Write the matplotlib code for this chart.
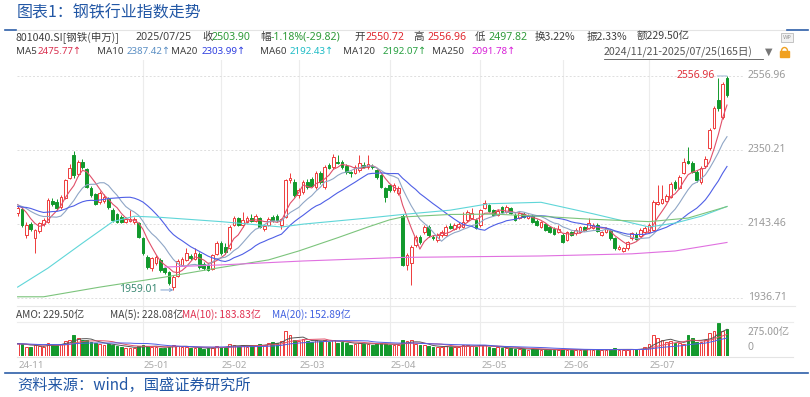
import numpy as np
import pandas as pd
import matplotlib
matplotlib.use('Agg')
import matplotlib.pyplot as plt
import matplotlib.transforms as mtransforms
from matplotlib.lines import Line2D
from matplotlib.patches import Rectangle, Arc

plt.rcParams['font.family'] = ['Noto Sans CJK SC', 'DejaVu Sans']
LATIN = ['Noto Sans', 'DejaVu Sans']

# --- daily OHLC of 801040.SI, 2024/11/21 - 2025/07/25 (165 trading days) ---
opens = [
    2174, 2185, 2112, 2143, 2104, 2125, 2143, 2149, 2207, 2206,
    2190, 2216, 2272, 2336, 2284, 2317, 2296, 2244, 2226, 2205,
    2208, 2212, 2182, 2170, 2163, 2150, 2152, 2148, 2146, 2104,
    2051, 2020, 2035, 2043, 2020, 2009, 1968, 1998, 2030, 2043,
    2054, 2045, 2060, 2032, 2030, 2018, 2060, 2090, 2080, 2075,
    2141, 2160, 2141, 2149, 2160, 2152, 2160, 2130, 2141, 2163,
    2166, 2140, 2163, 2266, 2262, 2224, 2233, 2261, 2269, 2247,
    2286, 2247, 2308, 2303, 2317, 2317, 2305, 2288, 2286, 2294,
    2308, 2303, 2306, 2294, 2280, 2244, 2252, 2238, 2230, 2165,
    2029, 2034, 2085, 2107, 2121, 2135, 2107, 2099, 2113, 2113,
    2138, 2130, 2135, 2135, 2155, 2160, 2155, 2141, 2188, 2196,
    2182, 2169, 2191, 2177, 2188, 2169, 2160, 2172, 2160, 2166,
    2152, 2135, 2143, 2135, 2130, 2121, 2113, 2099, 2121, 2118,
    2121, 2135, 2132, 2132, 2141, 2113, 2121, 2124, 2104, 2074,
    2068, 2076, 2104, 2116, 2110, 2121, 2121, 2127, 2200, 2203,
    2208, 2219, 2261, 2244, 2286, 2318, 2314, 2289, 2262, 2305,
    2356, 2412, 2490, 2443, 2550.72,
]
highs = [
    2196, 2190, 2150, 2150, 2130, 2150, 2160, 2215, 2216, 2214,
    2225, 2270, 2312, 2346, 2322, 2325, 2300, 2250, 2230, 2235,
    2228, 2220, 2188, 2175, 2168, 2162, 2182, 2162, 2150, 2108,
    2056, 2052, 2058, 2048, 2024, 2012, 2000, 2045, 2050, 2075,
    2060, 2075, 2064, 2036, 2034, 2060, 2095, 2096, 2090, 2140,
    2166, 2164, 2177, 2166, 2172, 2170, 2164, 2142, 2162, 2168,
    2170, 2160, 2270, 2286, 2268, 2245, 2266, 2268, 2274, 2292,
    2292, 2308, 2314, 2340, 2336, 2322, 2310, 2292, 2308, 2336,
    2316, 2336, 2312, 2298, 2284, 2248, 2256, 2258, 2250, 2170,
    2062, 2085, 2112, 2112, 2140, 2140, 2112, 2118, 2126, 2140,
    2146, 2146, 2148, 2177, 2182, 2188, 2160, 2186, 2210, 2200,
    2186, 2186, 2195, 2196, 2192, 2173, 2178, 2176, 2170, 2170,
    2156, 2153, 2147, 2139, 2134, 2140, 2117, 2125, 2125, 2131,
    2139, 2139, 2160, 2145, 2145, 2125, 2136, 2128, 2108, 2084,
    2080, 2097, 2122, 2120, 2131, 2137, 2145, 2210, 2252, 2252,
    2228, 2262, 2266, 2280, 2328, 2358, 2318, 2294, 2305, 2332,
    2412, 2472, 2551, 2540, 2556.96,
]
lows = [
    2165, 2135, 2105, 2125, 2062, 2118, 2138, 2145, 2195, 2183,
    2185, 2212, 2268, 2272, 2278, 2298, 2244, 2220, 2196, 2200,
    2203, 2186, 2150, 2146, 2146, 2145, 2148, 2144, 2104, 2058,
    2018, 2012, 2030, 2010, 2005, 1974, 1959.01, 1995, 2025, 2040,
    2044, 2042, 2018, 2016, 2012, 2014, 2056, 2058, 2060, 2070,
    2138, 2138, 2136, 2145, 2148, 2148, 2131, 2125, 2138, 2150,
    2150, 2128, 2160, 2258, 2218, 2215, 2228, 2242, 2246, 2242,
    2256, 2242, 2296, 2298, 2310, 2298, 2284, 2276, 2282, 2290,
    2300, 2298, 2298, 2270, 2243, 2205, 2232, 2234, 2225, 2026,
    2015, 1973, 2080, 2088, 2116, 2108, 2098, 2094, 2108, 2110,
    2128, 2126, 2130, 2132, 2150, 2156, 2128, 2136, 2184, 2176,
    2165, 2165, 2173, 2173, 2170, 2151, 2156, 2159, 2156, 2145,
    2137, 2131, 2123, 2117, 2112, 2117, 2089, 2095, 2109, 2114,
    2117, 2123, 2128, 2128, 2120, 2109, 2117, 2100, 2072, 2070,
    2064, 2072, 2100, 2098, 2106, 2117, 2117, 2123, 2196, 2199,
    2204, 2215, 2238, 2240, 2282, 2310, 2285, 2260, 2256, 2300,
    2350, 2408, 2460, 2438, 2497.82,
]
closes = [
    2188, 2141, 2140, 2130, 2127, 2146, 2155, 2210, 2199, 2188,
    2219, 2266, 2300, 2280, 2317, 2303, 2247, 2224, 2200, 2230,
    2219, 2190, 2155, 2150, 2150, 2157, 2158, 2157, 2107, 2062,
    2023, 2048, 2051, 2015, 2009, 1978, 1995, 2040, 2045, 2062,
    2048, 2062, 2023, 2020, 2015, 2057, 2090, 2062, 2066, 2135,
    2160, 2141, 2155, 2160, 2152, 2166, 2135, 2138, 2157, 2155,
    2155, 2157, 2266, 2272, 2224, 2238, 2261, 2247, 2250, 2286,
    2261, 2303, 2300, 2331, 2314, 2303, 2289, 2286, 2303, 2314,
    2303, 2310, 2303, 2275, 2247, 2219, 2238, 2252, 2244, 2030,
    2057, 2079, 2107, 2093, 2135, 2113, 2104, 2113, 2121, 2135,
    2132, 2140, 2143, 2149, 2177, 2174, 2132, 2182, 2202, 2180,
    2169, 2180, 2177, 2191, 2174, 2155, 2174, 2163, 2166, 2149,
    2141, 2149, 2127, 2121, 2116, 2130, 2093, 2121, 2113, 2127,
    2135, 2127, 2146, 2141, 2124, 2121, 2132, 2104, 2076, 2080,
    2076, 2093, 2118, 2102, 2127, 2132, 2141, 2205, 2205, 2213,
    2222, 2255, 2244, 2275, 2317, 2314, 2290, 2265, 2300, 2326,
    2407, 2467, 2467, 2533.72, 2503.90,
]
# closes of the 19 sessions before the window (needed for MA5/10/20 at the left edge)
pre_closes = [2175, 2160, 2185, 2210, 2230, 2215, 2190, 2170, 2180, 2165,
              2185, 2195, 2210, 2190, 2200, 2185, 2205, 2215, 2195]

# turnover (亿元)
amount = [
    110, 105, 80, 75, 90, 85, 80, 115, 95, 90,
    105, 130, 140, 176, 150, 140, 135, 120, 110, 100,
    95, 100, 95, 85, 75, 70, 72, 68, 85, 95,
    85, 80, 75, 70, 72, 80, 95, 85, 75, 80,
    65, 70, 75, 60, 65, 70, 85, 80, 75, 100,
    95, 85, 90, 80, 95, 90, 100, 95, 110, 120,
    115, 130, 211, 180, 140, 130, 145, 125, 120, 135,
    125, 140, 120, 135, 115, 120, 110, 95, 105, 115,
    100, 105, 95, 100, 110, 105, 95, 90, 95, 140,
    130, 135, 105, 90, 95, 85, 75, 80, 75, 85,
    80, 78, 80, 95, 90, 85, 80, 95, 90, 80,
    70, 75, 65, 70, 65, 60, 62, 58, 55, 60,
    58, 55, 52, 50, 52, 55, 60, 55, 50, 52,
    55, 50, 60, 55, 52, 50, 55, 58, 65, 52,
    50, 55, 60, 58, 62, 75, 100, 175, 150, 140,
    120, 130, 115, 110, 105, 175, 150, 120, 118, 135,
    200, 215, 282, 214, 229.5,
]
pre_amount = [105, 98, 110, 120, 115, 100, 95, 105, 112, 98,
              90, 100, 108, 95, 102, 110, 96, 104, 100]

# long moving averages (day index, value)
ma60_idx = [0, 7, 15, 22, 27, 33, 47, 61, 66, 81, 89, 100, 109, 121, 133, 140, 146, 152, 158, 164]
ma60_val = [1967, 2020, 2090, 2150, 2165, 2162, 2150, 2135, 2143, 2160, 2170, 2182, 2200, 2204,
            2172, 2152, 2135, 2146, 2165, 2192.43]
ma120_idx = [0, 6, 19, 34, 46, 58, 65, 74, 81, 86, 89, 100, 110, 121, 132, 146, 155, 164]
ma120_val = [1940, 1940, 1967, 1995, 2020, 2043, 2068, 2105, 2135, 2155, 2163, 2170, 2171, 2165,
             2157, 2150, 2160, 2192.07]
ma250_idx = [34, 47, 66, 89, 121, 142, 152, 164]
ma250_val = [2023, 2029, 2040, 2050, 2054, 2060, 2068, 2091.78]

month_labels = ['24-11', '25-01', '25-02', '25-03', '25-04', '25-05', '25-06', '25-07']
month_idx = [0, 29, 47, 65, 86, 107, 126, 146]
price_ticks = [1936.71, 2143.46, 2350.21, 2556.96]

RED = '#ee3b3b'
GREEN = '#12992c'
TXT = '#404040'
BLUE_T = '#2257a5'

W, H = 810, 397


def fx(px):
    return px / W


def fy(py):
    return 1 - py / H


opens, highs, lows, closes = map(np.array, (opens, highs, lows, closes))
amount = np.array(amount)
x = np.arange(len(closes))
up = closes >= opens
edge = np.where(up, RED, GREEN)
face = np.where(up, 'white', GREEN)
xlim = (-0.14, 167.7)

fig = plt.figure(figsize=(W / 100, H / 100), dpi=100)

# background axes holding the month grid lines (spans price + volume panels)
bg = fig.add_axes([fx(17), fy(357), fx(743) - fx(17), fy(60) - fy(357)])
bg.set_xlim(xlim)
bg.axis('off')
for i in month_idx[1:]:
    bg.axvline(i, color='#ececec', lw=0.8)

# --- price panel ---
ax = fig.add_axes([fx(17), fy(300), fx(743) - fx(17), fy(62) - fy(300)])
ax.set_xlim(xlim)
ax.set_ylim(1931, 2596)
ax.axis('off')
for v in price_ticks:
    ax.axhline(v, color='#dedede', lw=0.7, ls=(0, (2, 2)))
    ax.text(1 + 5 / 726, v, f'{v:.2f}', transform=ax.get_yaxis_transform(),
            ha='left', va='center', fontsize=7.5, color='#9a9a9a', family=LATIN)

# candles: wick first, then body (hollow red / filled green)
ax.vlines(x, lows, highs, colors=edge, lw=0.7, zorder=2)
body_lo = np.minimum(opens, closes)
body_h = np.maximum(np.abs(closes - opens), 0.8)
ax.bar(x, body_h, bottom=body_lo, width=0.62, color=face, edgecolor=edge,
       linewidth=0.7, zorder=3)

# short moving averages from the closes
all_close = pd.Series(pre_closes + list(closes))
n_pre = len(pre_closes)
for win, c in [(5, '#e0506a'), (10, '#8fa6c6'), (20, '#4f5fe6')]:
    ma = all_close.rolling(win).mean().iloc[n_pre:].to_numpy()
    ax.plot(x, ma, color=c, lw=0.8, zorder=4)
ax.plot(ma60_idx, ma60_val, color='#5fd6d8', lw=0.8, zorder=4)
ax.plot(ma120_idx, ma120_val, color='#7cc47c', lw=0.8, zorder=4)
ax.plot(ma250_idx, ma250_val, color='#e070e0', lw=0.8, zorder=4)

# max / min markers
ih = int(np.argmax(highs))
il = int(np.argmin(lows))
ax.annotate(f'{highs[ih]:.2f}', xy=(ih, highs[ih]), xytext=(-9, 0), textcoords='offset points',
            ha='right', va='center', fontsize=7.5, color='#e0323c', family=LATIN,
            arrowprops=dict(arrowstyle='-', color='#9fb6d6', lw=0.7, shrinkA=0, shrinkB=0))
ax.annotate(f'{lows[il]:.2f}', xy=(il, lows[il]), xytext=(-11, 0), textcoords='offset points',
            ha='right', va='center', fontsize=7.5, color='#3b8a74', family=LATIN,
            arrowprops=dict(arrowstyle='->', color='#7fa0d0', lw=0.7, shrinkA=0, shrinkB=0,
                            mutation_scale=5))

# --- volume panel ---
axv = fig.add_axes([fx(17), fy(356), fx(743) - fx(17), fy(322) - fy(356)])
axv.set_xlim(xlim)
axv.set_ylim(0, 290)
axv.axis('off')
axv.bar(x, amount, width=0.62, color=face, edgecolor=edge, linewidth=0.7, zorder=2)
all_amt = pd.Series(pre_amount + list(amount))
for win, c in [(5, '#555555'), (10, '#e0506a'), (20, '#4f5fe6')]:
    ma = all_amt.rolling(win).mean().iloc[len(pre_amount):].to_numpy()
    axv.plot(x, ma, color=c, lw=0.7, zorder=3)
fig.text(fx(748), fy(332), '275.00亿', fontsize=7.5, color='#9a9a9a', va='center')
fig.text(fx(748), fy(347), '0', fontsize=7.5, color='#9a9a9a', va='center', family=LATIN)

# AMO legend line
amo = [(16, 'AMO: 229.50亿', TXT), (110, 'MA(5): 228.08亿', TXT),
       (182, 'MA(10): 183.83亿', '#e03050'), (272, 'MA(20): 152.89亿', '#4060e0')]
for px, s, c in amo:
    fig.text(fx(px), fy(315), s, fontsize=7.3, color=c, va='center')

# month labels
trans = mtransforms.blended_transform_factory(bg.transData, fig.transFigure)
for i, lab in zip(month_idx, month_labels):
    bg.text(i + 0.2, fy(365), lab, transform=trans, ha='left', va='center',
            fontsize=7, color='#aaaaaa', family=LATIN)

# separator lines
fig.add_artist(Line2D([fx(17), fx(787)], [fy(30)] * 2, color='#e4e4e4', lw=0.8))
fig.add_artist(Line2D([fx(5), fx(16)], [fy(30)] * 2, color='#2e5fa8', lw=1.2))
fig.add_artist(Line2D([fx(787), fx(808)], [fy(30)] * 2, color='#2e5fa8', lw=1.2))
fig.add_artist(Line2D([fx(17), fx(795)], [fy(306)] * 2, color='#e8e8e8', lw=0.8))
fig.add_artist(Line2D([fx(17), fx(793)], [fy(322)] * 2, color='#ececec', lw=0.8))
fig.add_artist(Line2D([fx(17), fx(793)], [fy(357)] * 2, color='#e4e4e4', lw=0.8))
fig.add_artist(Line2D([fx(5), fx(808)], [fy(373)] * 2, color='#2e5fa8', lw=1.2))

# title and source
fig.text(fx(17), fy(13), '图表1：钢铁行业指数走势', fontsize=11.5, color=BLUE_T,
         style='italic', va='center')
fig.text(fx(17), fy(385), '资料来源：wind，国盛证券研究所', fontsize=11, color=BLUE_T,
         style='italic', va='center')

# header row 1 (each piece placed where it sits in the reference)
row1 = [(16, '801040.SI[钢铁(申万)]', TXT), (135, '2025/07/25', TXT),
        (202, '收', TXT), (212, '2503.90', '#2e9a38'),
        (260, '幅', TXT), (271, '-1.18%(-29.82)', '#2e9a38'),
        (354, '开', TXT), (365, '2550.72', '#e0282e'),
        (413, '高', TXT), (427, '2556.96', '#e0282e'),
        (475, '低', TXT), (488, '2497.82', '#2e9a38'),
        (535, '换3.22%', TXT), (587, '振2.33%', TXT), (637, '额229.50亿', TXT)]
for px, s, c in row1:
    fam = LATIN if s.isascii() else ['Noto Sans CJK SC', 'DejaVu Sans']
    fig.text(fx(px), fy(37), s, fontsize=7.6, color=c, va='center', family=fam)

# header row 2: moving-average values
row2 = [(16, 'MA5', TXT), (38, '2475.77↑', '#d9304f'),
        (97, 'MA10', TXT), (127, '2387.42↑', '#5b8fc4'),
        (171, 'MA20', TXT), (202, '2303.99↑', '#2f3fe0'),
        (260, 'MA60', TXT), (290, '2192.43↑', '#1fbcc6'),
        (343, 'MA120', TXT), (383, '2192.07↑', '#27a040'),
        (432, 'MA250', TXT), (472, '2091.78↑', '#d820d8')]
for px, s, c in row2:
    fig.text(fx(px), fy(52), s, fontsize=7.0, color=c, va='center', family=LATIN)
fig.text(fx(604), fy(52), '2024/11/21-2025/07/25(165日)', fontsize=7.6, color='#555555',
         va='center')
fig.add_artist(Line2D([fx(604), fx(763)], [fy(59)] * 2, color='#555555', lw=0.6))
fig.text(fx(765), fy(52), '▼', fontsize=7, color='#777777', va='center', family='DejaVu Sans')

# lock icon and small "WP" badge
fig.add_artist(Rectangle((fx(780), fy(57)), fx(9), fy(0) - fy(6), color='#f0a020'))
fig.add_artist(Arc((fx(784.5), fy(51)), fx(6), fy(0) - fy(7), theta1=0, theta2=180,
                   color='#f0a020', lw=1.0))
fig.add_artist(Rectangle((fx(781), fy(42)), fx(12), fy(0) - fy(9), facecolor='#f2f2f2',
                         edgecolor='#bbbbbb', lw=0.6))
fig.text(fx(787), fy(37.5), 'WP', fontsize=4, color='#999999', ha='center', va='center',
         family='DejaVu Sans')

fig.savefig('out.png', dpi=100)
